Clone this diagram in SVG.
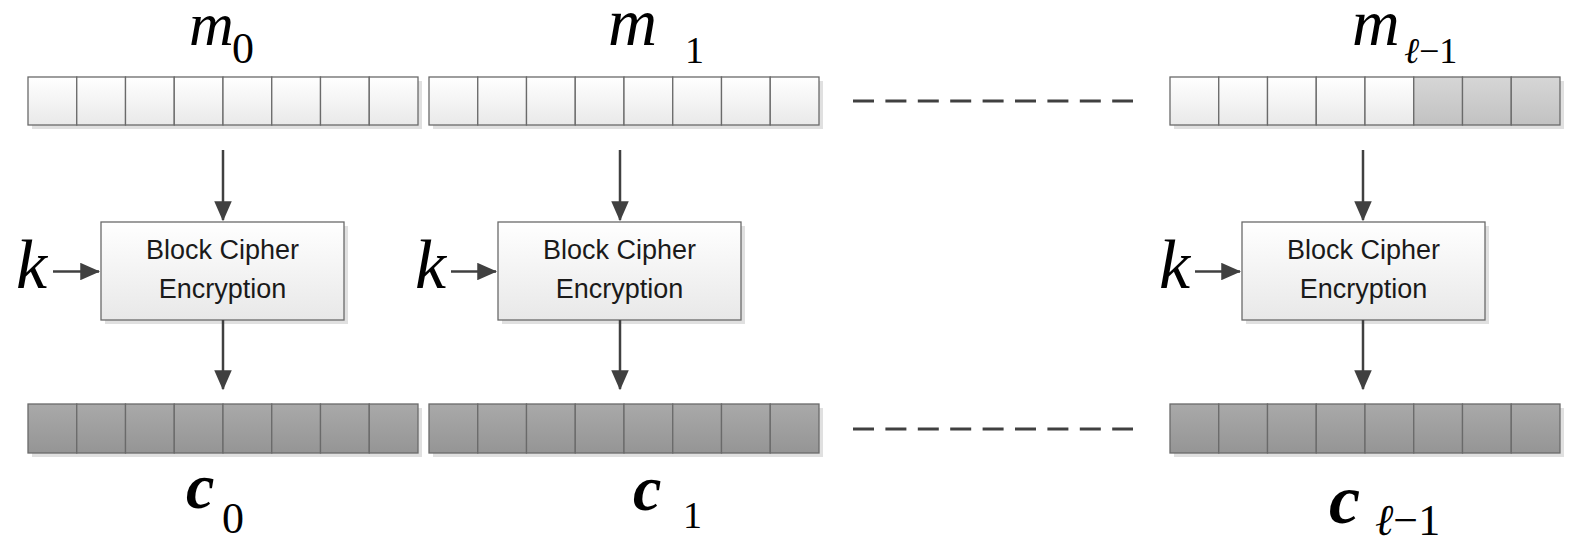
<svg xmlns="http://www.w3.org/2000/svg" width="1570" height="536" viewBox="0 0 1570 536">
<style>
.cell{stroke:#6a6a6a;stroke-width:1.3}
.lt{fill:url(#gLight)}
.dk{fill:url(#gDark)}
.md{fill:url(#gMid)}
.shadow{fill:#e0e0e0}
.box{fill:url(#gBox);stroke:#6a6a6a;stroke-width:1.3}
.btxt{font-family:"Liberation Sans",Arial,sans-serif;font-size:27px;fill:#1a1a1a;text-anchor:middle}
.math{font-family:"Liberation Serif","Times New Roman",serif;fill:#000}
.it{font-style:italic}
.conn{stroke:#404040;stroke-width:2.5;fill:none}
.dash{stroke:#404040;stroke-width:3;stroke-dasharray:21 11.4;fill:none}
</style>
<defs>
<linearGradient id="gLight" x1="0" y1="0" x2="0" y2="1"><stop offset="0" stop-color="#ffffff"/><stop offset="1" stop-color="#e9e9e9"/></linearGradient>
<linearGradient id="gDark" x1="0" y1="0" x2="0" y2="1"><stop offset="0" stop-color="#a9a9a9"/><stop offset="1" stop-color="#959595"/></linearGradient>
<linearGradient id="gMid" x1="0" y1="0" x2="0" y2="1"><stop offset="0" stop-color="#d6d6d6"/><stop offset="1" stop-color="#c2c2c2"/></linearGradient>
<linearGradient id="gBox" x1="0" y1="0" x2="0" y2="1"><stop offset="0" stop-color="#ffffff"/><stop offset="1" stop-color="#e8e8e8"/></linearGradient>
<marker id="arr" markerWidth="8" markerHeight="7" refX="7.5" refY="3.5" orient="auto" markerUnits="strokeWidth"><path d="M0,0 L8,3.5 L0,7 z" fill="#404040"/></marker>
</defs>

<!-- plaintext blocks -->
<g id="m0-block">
<rect class="shadow" x="32" y="81" width="390" height="48"/>
<rect class="cell lt" x="28" y="77" width="48.75" height="48"/><rect class="cell lt" x="76.75" y="77" width="48.75" height="48"/><rect class="cell lt" x="125.5" y="77" width="48.75" height="48"/><rect class="cell lt" x="174.25" y="77" width="48.75" height="48"/><rect class="cell lt" x="223" y="77" width="48.75" height="48"/><rect class="cell lt" x="271.75" y="77" width="48.75" height="48"/><rect class="cell lt" x="320.5" y="77" width="48.75" height="48"/><rect class="cell lt" x="369.25" y="77" width="48.75" height="48"/>
</g>
<g id="m1-block">
<rect class="shadow" x="433" y="81" width="390" height="48"/>
<rect class="cell lt" x="429" y="77" width="48.75" height="48"/><rect class="cell lt" x="477.75" y="77" width="48.75" height="48"/><rect class="cell lt" x="526.5" y="77" width="48.75" height="48"/><rect class="cell lt" x="575.25" y="77" width="48.75" height="48"/><rect class="cell lt" x="624" y="77" width="48.75" height="48"/><rect class="cell lt" x="672.75" y="77" width="48.75" height="48"/><rect class="cell lt" x="721.5" y="77" width="48.75" height="48"/><rect class="cell lt" x="770.25" y="77" width="48.75" height="48"/>
</g>
<g id="ml-block">
<rect class="shadow" x="1174" y="81" width="390" height="48"/>
<rect class="cell lt" x="1170" y="77" width="48.75" height="48"/><rect class="cell lt" x="1218.75" y="77" width="48.75" height="48"/><rect class="cell lt" x="1267.5" y="77" width="48.75" height="48"/><rect class="cell lt" x="1316.25" y="77" width="48.75" height="48"/><rect class="cell lt" x="1365" y="77" width="48.75" height="48"/><rect class="cell md" x="1413.75" y="77" width="48.75" height="48"/><rect class="cell md" x="1462.5" y="77" width="48.75" height="48"/><rect class="cell md" x="1511.25" y="77" width="48.75" height="48"/>
</g>

<!-- ciphertext blocks -->
<g id="c0-block">
<rect class="shadow" x="32" y="408" width="390" height="49"/>
<rect class="cell dk" x="28" y="404" width="48.75" height="49"/><rect class="cell dk" x="76.75" y="404" width="48.75" height="49"/><rect class="cell dk" x="125.5" y="404" width="48.75" height="49"/><rect class="cell dk" x="174.25" y="404" width="48.75" height="49"/><rect class="cell dk" x="223" y="404" width="48.75" height="49"/><rect class="cell dk" x="271.75" y="404" width="48.75" height="49"/><rect class="cell dk" x="320.5" y="404" width="48.75" height="49"/><rect class="cell dk" x="369.25" y="404" width="48.75" height="49"/>
</g>
<g id="c1-block">
<rect class="shadow" x="433" y="408" width="390" height="49"/>
<rect class="cell dk" x="429" y="404" width="48.75" height="49"/><rect class="cell dk" x="477.75" y="404" width="48.75" height="49"/><rect class="cell dk" x="526.5" y="404" width="48.75" height="49"/><rect class="cell dk" x="575.25" y="404" width="48.75" height="49"/><rect class="cell dk" x="624" y="404" width="48.75" height="49"/><rect class="cell dk" x="672.75" y="404" width="48.75" height="49"/><rect class="cell dk" x="721.5" y="404" width="48.75" height="49"/><rect class="cell dk" x="770.25" y="404" width="48.75" height="49"/>
</g>
<g id="cl-block">
<rect class="shadow" x="1174" y="408" width="390" height="49"/>
<rect class="cell dk" x="1170" y="404" width="48.75" height="49"/><rect class="cell dk" x="1218.75" y="404" width="48.75" height="49"/><rect class="cell dk" x="1267.5" y="404" width="48.75" height="49"/><rect class="cell dk" x="1316.25" y="404" width="48.75" height="49"/><rect class="cell dk" x="1365" y="404" width="48.75" height="49"/><rect class="cell dk" x="1413.75" y="404" width="48.75" height="49"/><rect class="cell dk" x="1462.5" y="404" width="48.75" height="49"/><rect class="cell dk" x="1511.25" y="404" width="48.75" height="49"/>
</g>

<!-- cipher boxes -->
<g id="enc0">
<rect class="shadow" x="105" y="226" width="243" height="98"/>
<rect class="box" x="101" y="222" width="243" height="98"/>
<text class="btxt" x="222.5" y="259">Block Cipher</text>
<text class="btxt" x="222.5" y="298">Encryption</text>
</g>
<g id="enc1">
<rect class="shadow" x="502" y="226" width="243" height="98"/>
<rect class="box" x="498" y="222" width="243" height="98"/>
<text class="btxt" x="619.5" y="259">Block Cipher</text>
<text class="btxt" x="619.5" y="298">Encryption</text>
</g>
<g id="encl">
<rect class="shadow" x="1246" y="226" width="243" height="98"/>
<rect class="box" x="1242" y="222" width="243" height="98"/>
<text class="btxt" x="1363.5" y="259">Block Cipher</text>
<text class="btxt" x="1363.5" y="298">Encryption</text>
</g>

<!-- labels -->
<g id="label-m0"><text class="math it" x="189" y="45" font-size="62">m</text><text class="math" x="232" y="63" font-size="44">0</text></g>
<g id="label-m1"><text class="math it" x="608" y="45" font-size="68">m</text><text class="math" x="685" y="63" font-size="38">1</text></g>
<g id="label-ml"><text class="math it" x="1352" y="45" font-size="66">m</text><text class="math" x="1404" y="63" font-size="36"><tspan class="it">ℓ</tspan>−1</text></g>
<g id="label-c0"><text class="math it" x="186" y="508" font-size="64" font-weight="bold">c</text><text class="math" x="222" y="533" font-size="44">0</text></g>
<g id="label-c1"><text class="math it" x="633" y="510" font-size="64" font-weight="bold">c</text><text class="math" x="683" y="528" font-size="38">1</text></g>
<g id="label-cl"><text class="math it" x="1329" y="523" font-size="70" font-weight="bold">c</text><text class="math" x="1375" y="535" font-size="44"><tspan class="it">ℓ</tspan>−1</text></g>
<g id="label-k0"><text class="math it" x="16" y="288" font-size="70">k</text></g>
<g id="label-k1"><text class="math it" x="415" y="288" font-size="70">k</text></g>
<g id="label-kl"><text class="math it" x="1159" y="288" font-size="70">k</text></g>

<!-- connectors -->
<g id="connectors">
<line class="conn" x1="223" y1="150" x2="223" y2="220" marker-end="url(#arr)"/>
<line class="conn" x1="223" y1="320" x2="223" y2="389" marker-end="url(#arr)"/>
<line class="conn" x1="53" y1="271.5" x2="99" y2="271.5" marker-end="url(#arr)"/>
<line class="conn" x1="620" y1="150" x2="620" y2="220" marker-end="url(#arr)"/>
<line class="conn" x1="620" y1="320" x2="620" y2="389" marker-end="url(#arr)"/>
<line class="conn" x1="451" y1="271.5" x2="496" y2="271.5" marker-end="url(#arr)"/>
<line class="conn" x1="1363" y1="150" x2="1363" y2="220" marker-end="url(#arr)"/>
<line class="conn" x1="1363" y1="320" x2="1363" y2="389" marker-end="url(#arr)"/>
<line class="conn" x1="1195" y1="271.5" x2="1240" y2="271.5" marker-end="url(#arr)"/>
<line class="dash" x1="853" y1="101" x2="1133" y2="101"/>
<line class="dash" x1="853" y1="429" x2="1133" y2="429"/>
</g>
</svg>
